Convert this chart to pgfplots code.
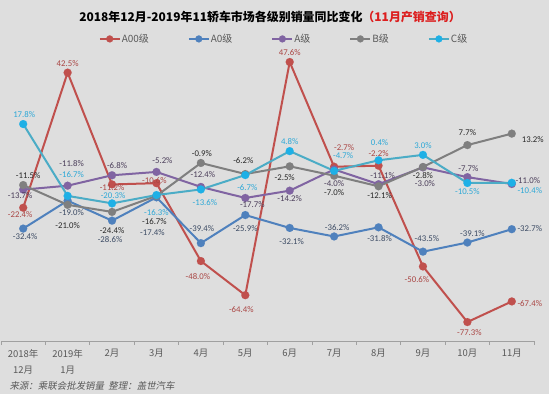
\documentclass[border=0pt]{standalone}
\usepackage{fontspec}
\setmainfont{Carlito}
\newfontfamily\cjk{Noto Sans CJK SC}
\newfontfamily\cjksl{Noto Sans CJK SC}[FakeSlant=0.2]
\usepackage{pgfplots}
\pgfplotsset{compat=1.18}
\usepackage{pgfplotstable}

\definecolor{bg}{RGB}{222,222,222}
\definecolor{cAzz}{RGB}{192,80,77}
\definecolor{cAz}{RGB}{79,129,189}
\definecolor{cA}{RGB}{128,100,162}
\definecolor{cB}{RGB}{127,127,127}
\definecolor{cC}{RGB}{75,172,198}
\definecolor{mC}{RGB}{30,176,230}
\definecolor{lAzz}{RGB}{170,70,68}
\definecolor{lAz}{RGB}{60,75,100}
\definecolor{lA}{RGB}{75,62,90}
\definecolor{lB}{RGB}{40,40,40}
\definecolor{lC}{RGB}{45,168,215}
\definecolor{axisgray}{RGB}{160,160,160}
\definecolor{tickgray}{RGB}{89,89,89}
\definecolor{titlered}{RGB}{220,30,30}

\pgfplotstableread{
x y dx dy
0 -22.4 -3 -7
1 42.5 0 9
2 -11.2 0 -3
3 -10.6 -2 3
4 -48.0 -3 -15
5 -64.4 -4 -14
6 47.6 0 9
7 -2.7 10 19
8 -2.2 0 12
9 -50.6 -6 -13
10 -77.3 2 -10
11 -67.4 18 -2
}\tabAzz
\pgfplotstableread{
x y dx dy
0 -32.4 2 -8
1 -19.0 4 -12
2 -28.6 -2 -19
3 -17.4 -4 -35
4 -39.4 1 15
5 -25.9 0 -14
6 -32.1 2 -14
7 -36.2 3 9
8 -31.8 1 -11
9 -43.5 4 13
10 -39.1 5 9
11 -32.7 18 1
}\tabAz
\pgfplotstableread{
x y dx dy
0 -13.7 -3 -6
1 -11.8 4 22
2 -6.8 5 10
3 -5.2 6 11
4 -12.4 2 12
5 -17.7 7 -7
6 -14.2 0 -8
7 -4.0 0 -14
8 -11.1 4 9
9 -3.0 2 -16
10 -7.7 1 9
11 -11.0 16 3
}\tabA
\pgfplotstableread{
x y dx dy
0 -11.5 5 10
1 -21.0 0 -21
2 -24.4 0 -19
3 -16.7 -2 -26
4 -0.9 1 9
5 -6.2 -2 13
6 -2.5 -5 -11
7 -7.0 0 -17
8 -12.1 1 -9
9 -2.8 0 -9
10 7.7 0 13
11 13.2 21 -6
}\tabB
\pgfplotstableread{
x y dx dy
0 17.8 1 10
1 -16.7 4 21
2 -20.3 1 8
3 -16.3 0 -17
4 -13.6 4 -13
5 -6.7 2 -12
6 4.8 0 10
7 -4.7 9 15
8 0.4 1 18
9 3.0 0 9
10 -10.5 0 -9
11 -10.4 18 -8
}\tabC

\pgfplotsset{
  labelplot/.style={draw=none, mark=none, forget plot,
    point meta=explicit symbolic,
    nodes near coords={\pgfplotspointmeta\%},
    visualization depends on={\thisrow{dx}\as\labdx},
    visualization depends on={\thisrow{dy}\as\labdy},
    every node near coord/.append style={anchor=center, inner sep=0pt,
      xshift=\labdx bp, yshift=\labdy bp, text=#1,
      font=\fontsize{8.8}{8.8}\selectfont}},
  ser/.style={color=#1, line width=2bp, mark=*, mark size=4bp,
    mark options={fill=#1, draw=#1, line width=0.1bp}},
}

\begin{document}
\begin{tikzpicture}
\path[fill=bg, use as bounding box] (0,0) rectangle (549bp,394bp);
\node[font=\cjk\bfseries\fontsize{12}{12}\selectfont, text=black] at (270bp,377bp)
  {2018年12月-2019年11轿车市场各级别销量同比变化\textcolor{titlered}{（11月产销查询）}};
\begin{axis}[
  at={(1bp,53bp)}, anchor=south west,
  scale only axis, width=533bp, height=304.8bp,
  xmin=-0.5, xmax=11.5, ymin=-86.4, ymax=60,
  axis x line*=bottom, axis y line=none,
  clip=false,
  xtick={0,...,11},
  xticklabels={{2018年\\12月},{2019年\\1月},2月,3月,4月,5月,6月,7月,8月,9月,10月,11月},
  minor xtick={-0.5,0.5,...,11.5},
  major tick length=0pt, minor tick length=4bp, tick align=outside,
  minor tick style={color=axisgray, line width=0.8bp},
  x axis line style={color=axisgray, line width=0.8bp},
  xticklabel style={font=\cjk\fontsize{9.5}{16}\selectfont, text=tickgray, align=center, yshift=-5bp},
  legend columns=5,
  legend style={at={(0.530,0.991)}, anchor=center, draw=none, fill=none,
    font=\cjk\fontsize{10}{10}\selectfont, text=tickgray,
    /tikz/every even column/.append style={column sep=38bp},
    nodes={inner sep=1bp}},
  legend image code/.code={\draw[mark repeat=2, mark phase=2, line width=2bp, mark size=3.5bp]
    plot coordinates {(0bp,0bp) (10bp,0bp) (20bp,0bp)};},
]
\addplot[ser=cAzz] table[x=x,y=y]{\tabAzz};
\addlegendentry{A00级}
\addplot[ser=cAz] table[x=x,y=y]{\tabAz};
\addlegendentry{A0级}
\addplot[ser=cA] table[x=x,y=y]{\tabA};
\addlegendentry{A级}
\addplot[ser=cB] table[x=x,y=y]{\tabB};
\addlegendentry{B级}
\addplot[color=cC, line width=2bp, mark=*, mark size=4bp, mark options={fill=mC, draw=mC, line width=0.1bp}] table[x=x,y=y]{\tabC};
\addlegendentry{C级}
\addplot[labelplot=lAzz] table[x=x,y=y,meta=y]{\tabAzz};
\addplot[labelplot=lAz] table[x=x,y=y,meta=y]{\tabAz};
\addplot[labelplot=lA] table[x=x,y=y,meta=y]{\tabA};
\addplot[labelplot=lB] table[x=x,y=y,meta=y]{\tabB};
\addplot[labelplot=lC] table[x=x,y=y,meta=y]{\tabC};
\end{axis}
\node[anchor=west, font=\cjksl\fontsize{9.5}{9.5}\selectfont, text=tickgray] at (6bp,8bp)
  {来源：乘联会批发销量\ \ 整理：盖世汽车};
\end{tikzpicture}
\end{document}
